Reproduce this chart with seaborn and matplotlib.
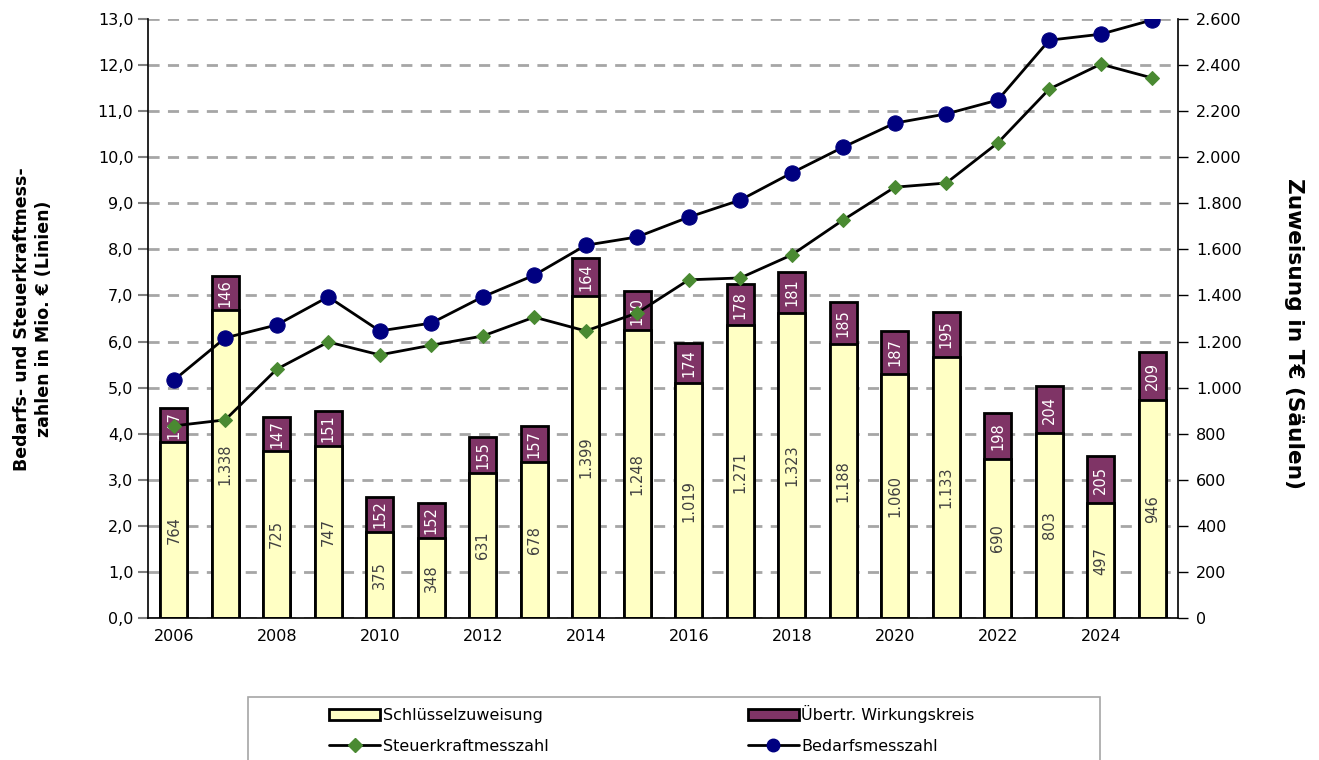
import numpy as np
import matplotlib
matplotlib.use("Agg")
import matplotlib.pyplot as plt
from matplotlib.ticker import FuncFormatter, FixedLocator
from matplotlib.patches import Patch, Rectangle
from matplotlib.lines import Line2D
import seaborn as sns

sns.set_style("white")
plt.rcParams["font.family"] = ["DejaVu Sans"]
plt.rcParams["text.color"] = "black"
plt.rcParams["xtick.labelcolor"] = "black"
plt.rcParams["ytick.labelcolor"] = "black"

years = list(range(2006, 2026))
schluessel = [764, 1338, 725, 747, 375, 348, 631, 678, 1399, 1248,
              1019, 1271, 1323, 1188, 1060, 1133, 690, 803, 497, 946]
uebertr = [147, 146, 147, 151, 152, 152, 155, 157, 164, 170,
           174, 178, 181, 185, 187, 195, 198, 204, 205, 209]
bedarf = [5.16, 6.08, 6.36, 6.97, 6.23, 6.40, 6.97, 7.44, 8.09, 8.27,
          8.70, 9.07, 9.66, 10.22, 10.74, 10.94, 11.24, 12.54, 12.67, 12.98]
steuer = [4.17, 4.30, 5.40, 5.99, 5.71, 5.92, 6.12, 6.53, 6.23, 6.62,
          7.34, 7.38, 7.88, 8.64, 9.35, 9.44, 10.31, 11.48, 12.02, 11.72]

yellow = "#FFFFC4"
purple = "#7F3466"
green = "#4A8A32"
navy = "#000080"

total = [s + u for s, u in zip(schluessel, uebertr)]
labels = [str(y) for y in years]
pos = np.arange(len(years))

fig = plt.figure(figsize=(13.19, 7.6), dpi=100)
ax = fig.add_axes([148 / 1319, 1 - 618 / 760, 1030 / 1319, 599 / 760])
ax2 = ax.twinx()

# bars on the right axis (drawn below the lines)
sns.barplot(x=labels, y=total, ax=ax2, color=purple, edgecolor="black",
            linewidth=2, width=0.53, saturation=1)
sns.barplot(x=labels, y=schluessel, ax=ax2, color=yellow, edgecolor="black",
            linewidth=2, width=0.53, saturation=1)
for i in pos:
    ax2.text(i, schluessel[i] / 2, f"{schluessel[i]:,}".replace(",", "."),
             rotation=90, ha="center", va="center", fontsize=10.5, color="#404040")
    ax2.text(i, schluessel[i] + uebertr[i] / 2, str(uebertr[i]),
             rotation=90, ha="center", va="center", fontsize=10.5, color="white")

ax2.set_ylim(0, 2600)
ax2.set_yticks(np.arange(0, 2601, 200))
ax2.yaxis.set_major_formatter(FuncFormatter(lambda v, p: f"{int(v):,}".replace(",", ".")))
ax2.set_axisbelow(True)
ax2.yaxis.grid(True, color="#A6A6A6", linestyle=(0, (4, 3)), linewidth=2)
ax2.set_xlabel("")
ax2.set_ylabel("")

# lines on the left axis
sns.lineplot(x=pos, y=steuer, ax=ax, color="black", linewidth=2, marker="D",
             markersize=7.5, markerfacecolor=green, markeredgecolor=green)
sns.lineplot(x=pos, y=bedarf, ax=ax, color="black", linewidth=2, marker="o",
             markersize=11, markerfacecolor=navy, markeredgecolor=navy)
ax.set_zorder(ax2.get_zorder() + 1)
ax.patch.set_visible(False)

ax.set_ylim(0, 13)
ax.set_yticks(np.arange(0, 13.1, 1))
ax.yaxis.set_major_formatter(FuncFormatter(lambda v, p: f"{v:.1f}".replace(".", ",")))
ax.set_xlim(-0.5, len(years) - 0.5)
ax.xaxis.set_major_locator(FixedLocator(np.arange(-0.5, len(years), 1)))
ax.xaxis.set_major_formatter(FuncFormatter(lambda v, p: ""))
ax.xaxis.set_minor_locator(FixedLocator(pos[::2]))
ax.xaxis.set_minor_formatter(FuncFormatter(lambda v, p: str(years[int(round(v))])))
ax.tick_params(axis="x", which="minor", length=0, labelsize=11.5, pad=8)
ax.tick_params(axis="x", which="major", length=6, color="#808080", width=1.5)
ax.tick_params(axis="y", length=7, color="#808080", width=1.5, labelsize=11.5)
ax2.tick_params(axis="y", length=7, color="black", width=1, labelsize=11.5, pad=6)

for a in (ax, ax2):
    a.spines["top"].set_visible(False)
    for s in ("left", "right", "bottom"):
        a.spines[s].set_color("black")
        a.spines[s].set_linewidth(1.2)
ax.spines["right"].set_visible(False)
ax2.spines["left"].set_visible(False)
ax2.spines["bottom"].set_visible(False)

fig.text(33 / 1319, 0.58, "Bedarfs- und Steuerkraftmess-\nzahlen in Mio. € (Linien)",
         rotation=90, ha="center", va="center", fontsize=12.5, fontweight="bold",
         linespacing=1.3)
fig.text(1294 / 1319, 1 - 334 / 760, "Zuweisung in T€ (Säulen)", rotation=270,
         ha="center", va="center", fontsize=15.6, fontweight="bold")

# legend frame drawn as a plain box, partly cut off at the bottom
fig.patches.append(Rectangle((248 / 1319, -0.05), 852 / 1319, 0.05 + 63 / 760,
                             transform=fig.transFigure, facecolor="white",
                             edgecolor="#A6A6A6", linewidth=1.2))

handles = [
    Patch(facecolor=yellow, edgecolor="black", linewidth=2),
    Line2D([], [], color="black", linewidth=2, marker="D", markersize=7,
           markerfacecolor=green, markeredgecolor=green),
    Patch(facecolor=purple, edgecolor="black", linewidth=2),
    Line2D([], [], color="black", linewidth=2, marker="o", markersize=9,
           markerfacecolor=navy, markeredgecolor=navy),
]
names = ["Schlüsselzuweisung", "Steuerkraftmesszahl",
         "Übertr. Wirkungskreis", "Bedarfsmesszahl"]
leg = fig.legend(handles, names, ncol=2, loc="upper left",
                 bbox_to_anchor=(329 / 1319, 1 - 705 / 760),
                 fontsize=11.5, frameon=False, handlelength=3.2,
                 handletextpad=0.15, borderpad=0, labelspacing=1.0,
                 columnspacing=12.5, borderaxespad=0)

fig.savefig("out.png", dpi=100, facecolor="white")
